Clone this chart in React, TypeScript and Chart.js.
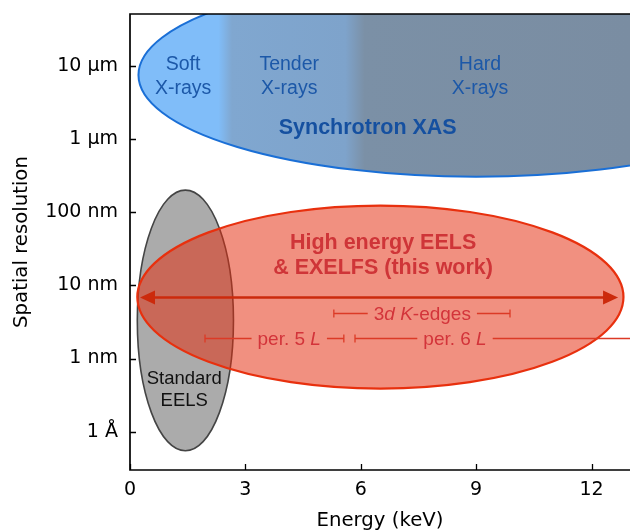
import React, { useEffect, useRef } from 'react';
import { Chart, registerables } from 'chart.js';

Chart.register(...registerables);

// Axes
const energyTicksKeV = [0, 3, 6, 9, 12];
const energyMinKeV = 0;
const energyMaxKeV = 13;
const resolutionTicksNm = [0.1, 1, 10, 100, 1000, 10000];
const resolutionTickLabels = ['1 Å', '1 nm', '10 nm', '100 nm', '1 µm', '10 µm'];
const resolutionMinNm = Math.pow(10, -1.5225);
const resolutionMaxNm = Math.pow(10, 4.7053);

// Regions (ellipses): center energy, half width (keV), center resolution (nm), half height (decades)
const regionNames = ['Synchrotron XAS', 'Standard EELS', 'High energy EELS & EXELFS'];
const regionCenterKeV = [9.0, 1.44, 6.51];
const regionHalfWidthKeV = [8.78, 1.25, 6.32];
const regionCenterNm = [7460, 3.31, 6.9];
const regionHalfHeightDecades = [1.39, 1.78, 1.25];

// Synchrotron band edges (keV) soft->tender, tender->hard
const xasBandEdgesKeV = [2.3, 2.65, 5.6, 6.1];

// Arrow (this work)
const arrowKeV = [0.26, 12.69];
const arrowNm = 6.8;

// Ranges
const rangeStartKeV = [5.3, 1.95, 5.85];
const rangeEndKeV = [9.88, 5.56, 13.6];
const rangeNm = [4.24, 1.91, 1.91];
const rangeLabelKeV = [7.6, 4.14, 8.45];
const rangeLabelParts: [string, boolean][][] = [
  [['3', false], ['d', true], [' ', false], ['K', true], ['-edges', false]],
  [['per. 5 ', false], ['L', true]],
  [['per. 6 ', false], ['L', true]],
];

// Text annotations
const bandLabels = [['Soft', 'X-rays'], ['Tender', 'X-rays'], ['Hard', 'X-rays']];
const bandLabelKeV = [1.38, 4.14, 9.1];
const bandLabelNm = 7030;
const xasLabelKeV = 6.18;
const xasLabelNm = 1400;
const thisWorkLines = ['High energy EELS', '& EXELFS (this work)'];
const thisWorkKeV = 6.58;
const thisWorkNm = 25.5;
const standardLines = ['Standard', 'EELS'];
const standardKeV = 1.41;
const standardNm = 0.37;

const SANS = '"Liberation Sans", Arial, sans-serif';
const DEJA = 'DejaVu Sans';

function drawRich(ctx: CanvasRenderingContext2D, parts: [string, boolean][], cx: number, cy: number, size: number) {
  let total = 0;
  const widths: number[] = [];
  for (const [t, it] of parts) {
    ctx.font = `${it ? 'italic ' : ''}${size}px ${SANS}`;
    const w = ctx.measureText(t).width;
    widths.push(w);
    total += w;
  }
  let x = cx - total / 2;
  ctx.textAlign = 'left';
  ctx.textBaseline = 'middle';
  parts.forEach(([t, it], i) => {
    ctx.font = `${it ? 'italic ' : ''}${size}px ${SANS}`;
    ctx.fillText(t, x, cy);
    x += widths[i];
  });
  return total;
}

const overlayPlugin = {
  id: 'overlay',
  beforeDatasetsDraw(chart: any) {
    const { ctx, chartArea: a } = chart;
    const xs = chart.scales.x;
    const ys = chart.scales.y;
    const px = (v: number) => xs.getPixelForValue(v);
    const py = (v: number) => ys.getPixelForValue(v);

    ctx.save();
    ctx.beginPath();
    ctx.rect(a.left, a.top, a.right - a.left, a.bottom - a.top + 1);
    ctx.clip();

    const ellipse = (i: number) => {
      const cx = px(regionCenterKeV[i]);
      const cy = py(regionCenterNm[i]);
      const rx = px(regionCenterKeV[i] + regionHalfWidthKeV[i]) - cx;
      const ry = cy - py(regionCenterNm[i] * Math.pow(10, regionHalfHeightDecades[i]));
      ctx.beginPath();
      ctx.ellipse(cx, cy, rx, ry, 0, 0, Math.PI * 2);
    };

    // Synchrotron XAS
    const x0 = px(energyMinKeV);
    const x1 = px(energyMaxKeV);
    const g = ctx.createLinearGradient(x0, 0, x1, 0);
    const f = (k: number) => (px(k) - x0) / (x1 - x0);
    g.addColorStop(0, '#80bdf9');
    g.addColorStop(f(xasBandEdgesKeV[0]), '#80bdf9');
    g.addColorStop(f(xasBandEdgesKeV[1]), '#80a7d0');
    g.addColorStop(f(xasBandEdgesKeV[2]), '#7ea3cb');
    g.addColorStop(f(xasBandEdgesKeV[3]), '#7b90a6');
    g.addColorStop(1, '#7a8da2');
    ellipse(0);
    ctx.fillStyle = g;
    ctx.fill();
    ctx.lineWidth = 2;
    ctx.strokeStyle = '#1a6fd6';
    ctx.stroke();

    // Standard EELS
    ellipse(1);
    ctx.fillStyle = '#ababab';
    ctx.fill();
    ctx.lineWidth = 1.6;
    ctx.strokeStyle = '#444444';
    ctx.stroke();

    // High energy EELS
    ellipse(2);
    ctx.fillStyle = 'rgba(228, 46, 16, 0.53)';
    ctx.fill();
    ctx.lineWidth = 2.2;
    ctx.strokeStyle = '#e8300e';
    ctx.stroke();

    // Arrow
    const ay = py(arrowNm);
    const al = px(arrowKeV[0]);
    const ar = px(arrowKeV[1]);
    const hl = 15;
    const hw = 7;
    ctx.strokeStyle = '#cc2a0c';
    ctx.fillStyle = '#cc2a0c';
    ctx.lineWidth = 2.5;
    ctx.beginPath();
    ctx.moveTo(al + hl - 2, ay);
    ctx.lineTo(ar - hl + 2, ay);
    ctx.stroke();
    ctx.beginPath();
    ctx.moveTo(al, ay);
    ctx.lineTo(al + hl, ay - hw);
    ctx.lineTo(al + hl, ay + hw);
    ctx.closePath();
    ctx.fill();
    ctx.beginPath();
    ctx.moveTo(ar, ay);
    ctx.lineTo(ar - hl, ay - hw);
    ctx.lineTo(ar - hl, ay + hw);
    ctx.closePath();
    ctx.fill();

    // Ranges
    const size = 19;
    for (let i = 0; i < rangeStartKeV.length; i++) {
      const y = Math.round(py(rangeNm[i])) + 0.5;
      const s = px(rangeStartKeV[i]);
      const e = px(rangeEndKeV[i]);
      const c = px(rangeLabelKeV[i]);
      ctx.fillStyle = '#d3343a';
      const w = drawRich(ctx, rangeLabelParts[i], c, y + 1, size);
      const gap = 6;
      ctx.strokeStyle = '#dc3a26';
      ctx.lineWidth = 1.3;
      ctx.beginPath();
      ctx.moveTo(s, y);
      ctx.lineTo(c - w / 2 - gap, y);
      ctx.moveTo(c + w / 2 + gap, y);
      ctx.lineTo(e, y);
      ctx.moveTo(s, y - 4);
      ctx.lineTo(s, y + 4);
      ctx.moveTo(e, y - 4);
      ctx.lineTo(e, y + 4);
      ctx.stroke();
    }

    // Texts
    ctx.textAlign = 'center';
    ctx.textBaseline = 'middle';
    ctx.fillStyle = '#1c58a8';
    ctx.font = `19.5px ${SANS}`;
    const by = py(bandLabelNm);
    bandLabels.forEach((lines, i) => {
      const bx = px(bandLabelKeV[i]);
      ctx.fillText(lines[0], bx, by - 12);
      ctx.fillText(lines[1], bx, by + 12);
    });
    ctx.fillStyle = '#1550a0';
    ctx.font = `bold 21.5px ${SANS}`;
    ctx.fillText(regionNames[0], px(xasLabelKeV), py(xasLabelNm));

    ctx.fillStyle = '#cf3538';
    const ty = py(thisWorkNm);
    ctx.fillText(thisWorkLines[0], px(thisWorkKeV), ty - 12.5);
    ctx.fillText(thisWorkLines[1], px(thisWorkKeV), ty + 12.5);

    ctx.fillStyle = '#111111';
    ctx.font = `18.5px ${SANS}`;
    const sy = py(standardNm);
    ctx.fillText(standardLines[0], px(standardKeV), sy - 11);
    ctx.fillText(standardLines[1], px(standardKeV), sy + 11);

    ctx.restore();
  },
  afterDraw(chart: any) {
    const { ctx, chartArea: a } = chart;
    const xs = chart.scales.x;
    const ys = chart.scales.y;
    ctx.save();
    ctx.strokeStyle = '#000';
    ctx.lineWidth = 1.7;
    ctx.beginPath();
    ctx.moveTo(a.right + 2, a.top);
    ctx.lineTo(a.left, a.top);
    ctx.lineTo(a.left, a.bottom);
    ctx.lineTo(a.right + 2, a.bottom);
    ctx.stroke();
    ctx.lineWidth = 1.3;
    ctx.beginPath();
    energyTicksKeV.forEach((v) => {
      const x = Math.round(xs.getPixelForValue(v)) + 0.5;
      ctx.moveTo(x, a.bottom);
      ctx.lineTo(x, a.bottom - 6);
    });
    resolutionTicksNm.forEach((v) => {
      const y = Math.round(ys.getPixelForValue(v)) + 0.5;
      ctx.moveTo(a.left, y);
      ctx.lineTo(a.left + 6, y);
    });
    ctx.stroke();
    ctx.restore();
  },
};

export default function App() {
  const ref = useRef<HTMLCanvasElement | null>(null);
  useEffect(() => {
    if (!ref.current) return;
    const chart = new Chart(ref.current, {
      type: 'scatter',
      data: { datasets: [{ label: 'regions', data: [], pointRadius: 0 }] },
      options: {
        animation: false,
        responsive: false,
        devicePixelRatio: 1,
        layout: { padding: { top: 14, right: 0, left: 0, bottom: 0 } },
        plugins: { legend: { display: false }, tooltip: { enabled: false } },
        scales: {
          x: {
            type: 'linear',
            min: energyMinKeV,
            max: energyMaxKeV,
            afterBuildTicks: (s: any) => {
              s.ticks = energyTicksKeV.map((v) => ({ value: v }));
            },
            afterFit: (s: any) => {
              s.height = 60;
              s.paddingLeft = 0;
              s.paddingRight = 0;
            },
            grid: { display: false, drawTicks: false },
            border: { display: false },
            ticks: {
              autoSkip: false,
              maxRotation: 0,
              padding: 9,
              color: '#000',
              font: { family: DEJA, size: 19 },
              callback: (v: any) => String(v),
            },
            title: {
              display: true,
              text: 'Energy (keV)',
              color: '#000',
              font: { family: DEJA, size: 19.7 },
              padding: { top: 0, bottom: -3 },
            },
          },
          y: {
            type: 'logarithmic',
            min: resolutionMinNm,
            max: resolutionMaxNm,
            afterBuildTicks: (s: any) => {
              s.ticks = resolutionTicksNm.map((v) => ({ value: v }));
            },
            afterFit: (s: any) => {
              s.width = 130;
              s.paddingTop = 0;
              s.paddingBottom = 0;
            },
            grid: { display: false, drawTicks: false },
            border: { display: false },
            ticks: {
              autoSkip: false,
              padding: 12,
              color: '#000',
              font: { family: DEJA, size: 19 },
              callback: (_v: any, i: number) => resolutionTickLabels[i],
            },
            title: {
              display: true,
              text: 'Spatial resolution',
              color: '#000',
              font: { family: DEJA, size: 19.7 },
              padding: { top: 10, bottom: 0 },
            },
          },
        },
      },
      plugins: [overlayPlugin],
    });
    return () => chart.destroy();
  }, []);
  return (
    <div style={{ position: 'absolute', left: 0, top: 0, width: 630, height: 530 }}>
      <canvas ref={ref} width={630} height={530} style={{ display: 'block' }} />
    </div>
  );
}
